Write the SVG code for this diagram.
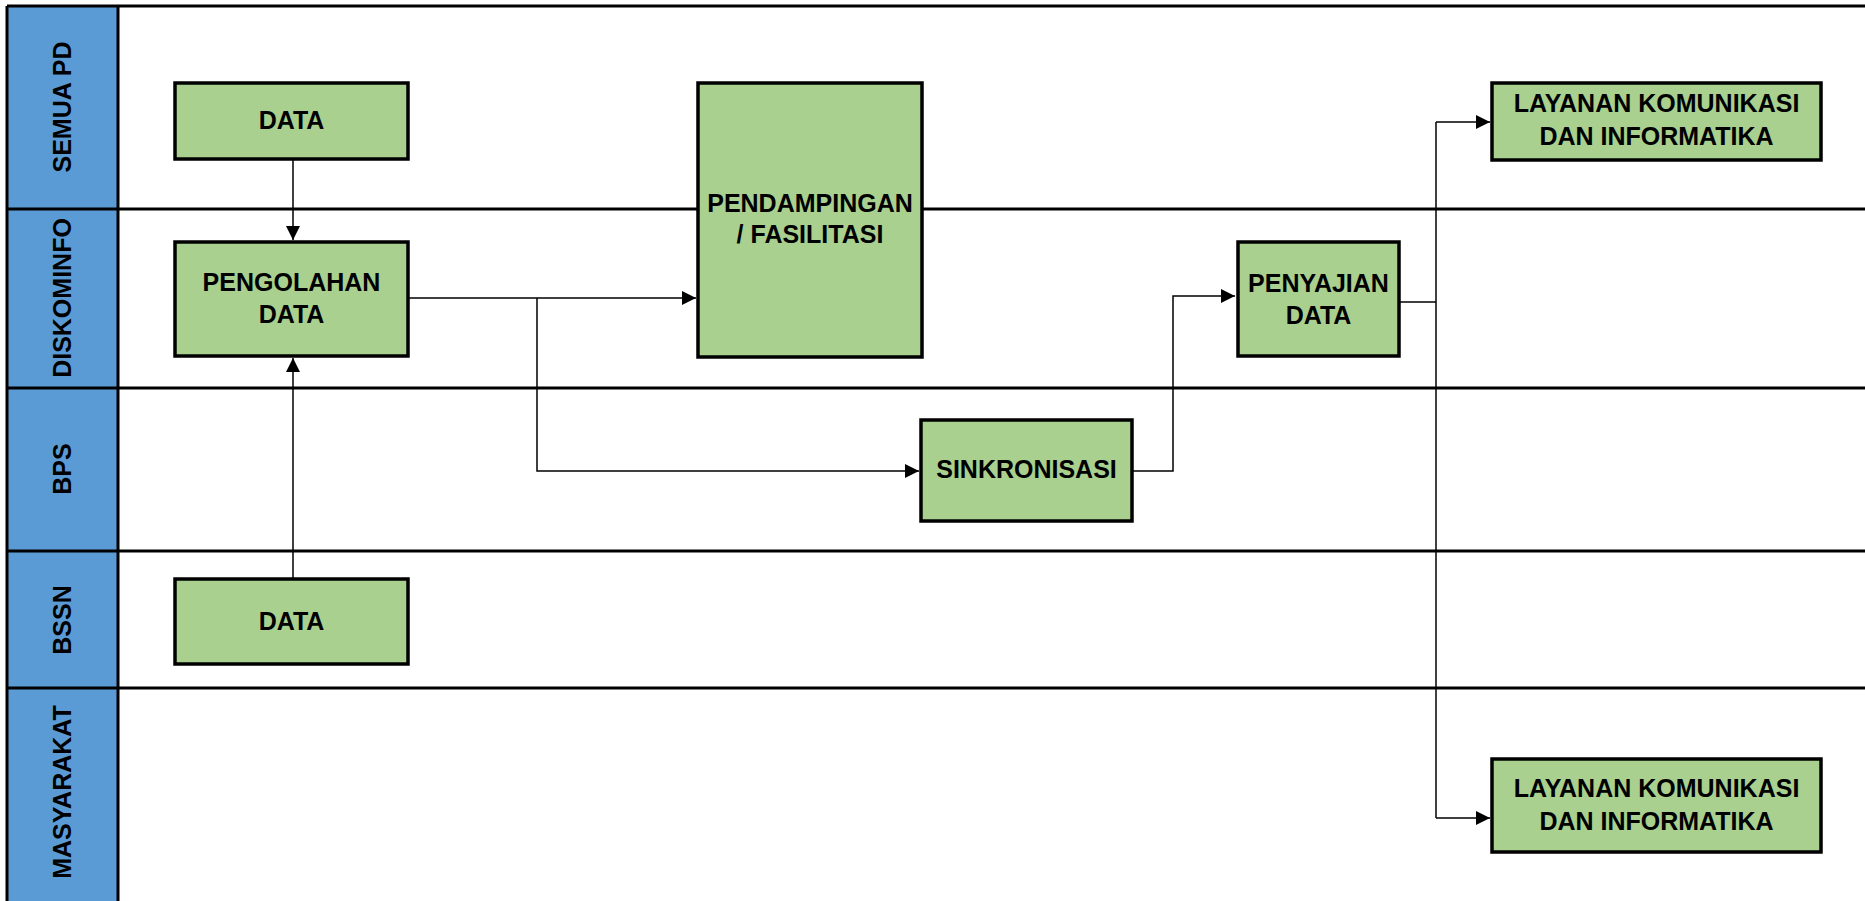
<svg xmlns="http://www.w3.org/2000/svg" width="1865" height="901" viewBox="0 0 1865 901">
<style>
.lane{fill:#5B9BD5;}
.grid{stroke:#000;stroke-width:3;fill:none;}
.box{fill:#A9D08E;stroke:#000;stroke-width:3.5;}
.t{font-family:"Liberation Sans",Arial,sans-serif;font-weight:bold;font-size:25px;fill:#000;text-anchor:middle;}
.lt{font-family:"Liberation Sans",Arial,sans-serif;font-weight:bold;font-size:25px;fill:#000;text-anchor:middle;}
.c{stroke:#000;stroke-width:1.5;fill:none;}
</style>
<defs>
<marker id="ah" markerUnits="userSpaceOnUse" markerWidth="15" markerHeight="15" refX="14" refY="7" orient="auto">
<path d="M0,0 L14,7 L0,14 z" fill="#000"/>
</marker>
</defs>
<rect width="1865" height="901" fill="#fff"/>
<g id="lanes">
<rect class="lane" x="7" y="6" width="111" height="895"/>
<path class="grid" d="M7,6 H1865 M7,209 H1865 M7,388 H1865 M7,551 H1865 M7,688 H1865 M7,6 V901 M118,6 V901"/>
<text class="lt" transform="translate(62,107) rotate(-90)" y="9">SEMUA PD</text>
<text class="lt" transform="translate(62,298) rotate(-90)" y="9">DISKOMINFO</text>
<text class="lt" transform="translate(62,469) rotate(-90)" y="9">BPS</text>
<text class="lt" transform="translate(62,620) rotate(-90)" y="9">BSSN</text>
<text class="lt" transform="translate(62,792) rotate(-90)" y="9">MASYARAKAT</text>
</g>
<g id="connectors">
<path class="c" d="M293,159 V240" marker-end="url(#ah)"/>
<path class="c" d="M293,579 V358" marker-end="url(#ah)"/>
<path class="c" d="M408,298 H696" marker-end="url(#ah)"/>
<path class="c" d="M537,298 V471 H919" marker-end="url(#ah)"/>
<path class="c" d="M1132,471 H1173 V296 H1235" marker-end="url(#ah)"/>
<path class="c" d="M1399,302 H1436"/>
<path class="c" d="M1436,122 V818"/>
<path class="c" d="M1436,122 H1490" marker-end="url(#ah)"/>
<path class="c" d="M1436,818 H1490" marker-end="url(#ah)"/>
</g>
<g id="data-semua">
<rect class="box" x="175" y="83" width="233" height="76"/>
<text class="t" x="291.5" y="129">DATA</text>
</g>
<g id="pengolahan">
<rect class="box" x="175" y="242" width="233" height="114"/>
<text class="t" x="291.5" y="291">PENGOLAHAN</text>
<text class="t" x="291.5" y="323">DATA</text>
</g>
<g id="pendampingan">
<rect class="box" x="698" y="83" width="224" height="274"/>
<text class="t" x="810" y="212">PENDAMPINGAN</text>
<text class="t" x="810" y="243">/ FASILITASI</text>
</g>
<g id="sinkronisasi">
<rect class="box" x="921" y="420" width="211" height="101"/>
<text class="t" x="1026.5" y="478">SINKRONISASI</text>
</g>
<g id="penyajian">
<rect class="box" x="1238" y="242" width="161" height="114"/>
<text class="t" x="1318.5" y="292">PENYAJIAN</text>
<text class="t" x="1318.5" y="324">DATA</text>
</g>
<g id="data-bssn">
<rect class="box" x="175" y="579" width="233" height="85"/>
<text class="t" x="291.5" y="630">DATA</text>
</g>
<g id="layanan-1">
<rect class="box" x="1492" y="83" width="329" height="77"/>
<text class="t" x="1656.5" y="112">LAYANAN KOMUNIKASI</text>
<text class="t" x="1656.5" y="145">DAN INFORMATIKA</text>
</g>
<g id="layanan-2">
<rect class="box" x="1492" y="759" width="329" height="93"/>
<text class="t" x="1656.5" y="797">LAYANAN KOMUNIKASI</text>
<text class="t" x="1656.5" y="830">DAN INFORMATIKA</text>
</g>
</svg>
